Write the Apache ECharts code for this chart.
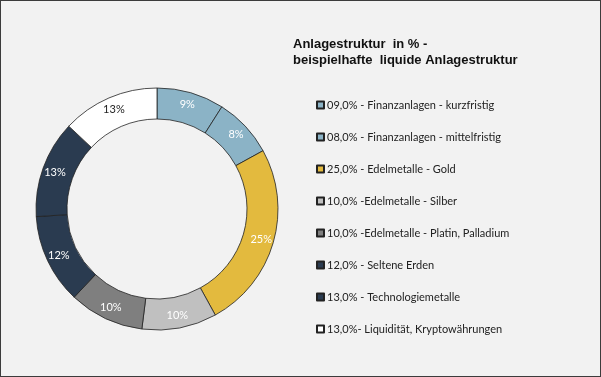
<!DOCTYPE html>
<html><head><meta charset="utf-8">
<script src="https://cdn.jsdelivr.net/npm/echarts@6/dist/echarts.min.js"></script>
<style>
html,body{margin:0;padding:0;background:#f2f2f2;}
#c{width:601px;height:377px;box-sizing:border-box;border:1px solid #3c3c3c;}
</style></head>
<body><div id="c"></div>
<script>
const categories = [
  "09,0% - Finanzanlagen - kurzfristig",
  "08,0% - Finanzanlagen - mittelfristig",
  "25,0% - Edelmetalle - Gold",
  "10,0% -Edelmetalle - Silber",
  "10,0% -Edelmetalle - Platin, Palladium",
  "12,0% - Seltene Erden",
  "13,0% - Technologiemetalle",
  "13,0%- Liquidität, Kryptowährungen"
];
const values = [9, 8, 25, 10, 10, 12, 13, 13];
const colors = ["#8bb3c6", "#8bb3c6", "#e3ba3e", "#c0c0c0", "#7f7f7f", "#2a3b50", "#2a3b50", "#ffffff"];
const labelColors = ["#fff", "#fff", "#fff", "#fff", "#fff", "#fff", "#fff", "#222"];
const titleText = "Anlagestruktur  in % -\nbeispielhafte  liquide Anlagestruktur";

const chart = echarts.init(document.getElementById('c'));
chart.setOption({
  backgroundColor: '#f2f2f2',
  animation: false,
  title: {
    text: titleText, left: 287, top: 30,
    textStyle: {fontFamily: 'Liberation Sans, Arial', fontWeight: 'bold', fontSize: 13, color: '#111', lineHeight: 16}
  },
  legend: {
    orient: 'vertical', left: 310, top: 92,
    itemWidth: 7, itemHeight: 7, itemGap: 18,
    icon: 'rect',
    textStyle: {fontFamily: 'Lato', fontSize: 11, color: '#222', lineHeight: 14, padding: [0,0,0,-2]},
    data: categories
  },
  series: [{
    type: 'pie',
    center: [156, 208],
    radius: [90, 121],
    startAngle: 90,
    clockwise: true,
    avoidLabelOverlap: false,
    itemStyle: {borderColor: '#222', borderWidth: 0.8},
    label: {show: true, position: 'inside', fontFamily: 'Lato', fontSize: 11,
      formatter: p => values[p.dataIndex] + '%'},
    labelLine: {show: false},
    emphasis: {disabled: true},
    data: categories.map((n, i) => ({
      name: n, value: values[i],
      itemStyle: {color: colors[i]},
      label: {color: labelColors[i]}
    }))
  }]
});
</script></body></html>
